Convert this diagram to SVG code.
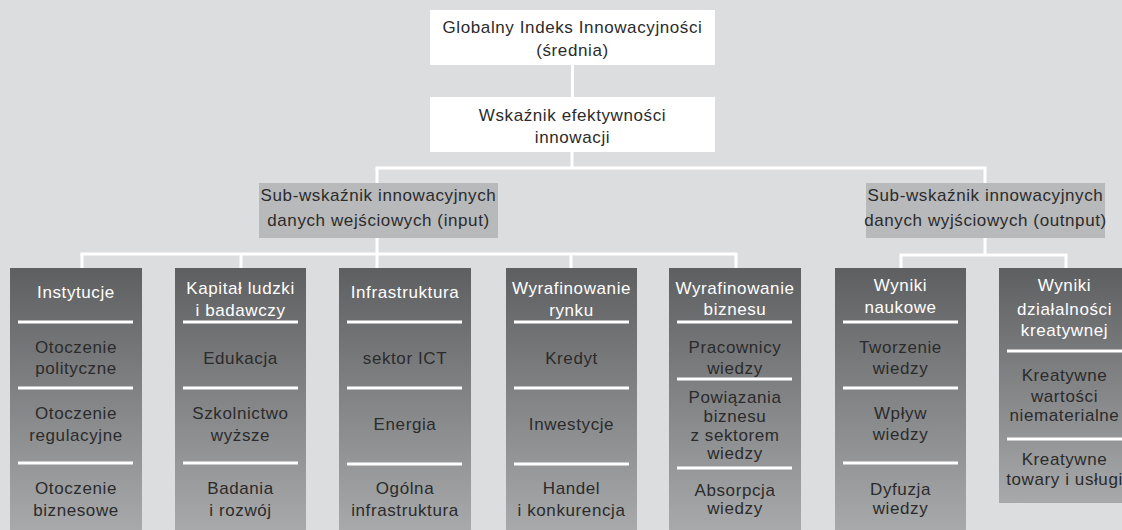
<svg xmlns="http://www.w3.org/2000/svg" width="1122" height="530" viewBox="0 0 1122 530">
<defs>
<linearGradient id="colg" x1="0" y1="0" x2="0" y2="1">
<stop offset="0" stop-color="#5e5f61"/>
<stop offset="1" stop-color="#a8a9ab"/>
</linearGradient>
<style>
text{font-family:"Liberation Sans","Open Sans",sans-serif;font-size:17px;letter-spacing:0.6px;text-anchor:middle;fill:#2b2b2b}
.hd{fill:#ffffff}
.conn line{stroke:#ffffff;stroke-width:3;fill:none}
.div{stroke:#ffffff;stroke-width:3}
.white{fill:#ffffff}
.sub{fill:#b8b9bb}
.col{fill:url(#colg)}
</style>
</defs>
<rect width="1122" height="530" fill="#dcdddf"/>

<g class="conn" id="connectors">
<line x1="572.5" y1="65" x2="572.5" y2="97"/>
<line x1="572" y1="152" x2="572" y2="168"/>
<line x1="375.5" y1="168" x2="986.5" y2="168"/>
<line x1="377" y1="168" x2="377" y2="183"/>
<line x1="985" y1="168" x2="985" y2="183"/>
<line x1="377" y1="238" x2="377" y2="254"/>
<line x1="80.5" y1="254" x2="737.5" y2="254"/>
<line x1="82" y1="254" x2="82" y2="268"/>
<line x1="241" y1="254" x2="241" y2="268"/>
<line x1="377" y1="254" x2="377" y2="268"/>
<line x1="571" y1="254" x2="571" y2="268"/>
<line x1="736" y1="254" x2="736" y2="268"/>
<line x1="985" y1="238" x2="985" y2="255"/>
<line x1="899.5" y1="255" x2="1067.5" y2="255"/>
<line x1="901" y1="255" x2="901" y2="268"/>
<line x1="1066" y1="255" x2="1066" y2="268"/>
</g>

<g id="gii">
<rect class="white" x="430" y="10" width="285" height="55"/>
<text x="572.5" y="33">Globalny Indeks Innowacyjności</text>
<text x="572.5" y="56">(średnia)</text>
</g>

<g id="efektywnosc">
<rect class="white" x="430" y="97" width="285" height="55"/>
<text x="572.5" y="121">Wskaźnik efektywności</text>
<text x="572.5" y="143">innowacji</text>
</g>

<g id="input">
<rect class="sub" x="259" y="183" width="239" height="55"/>
<text x="378.5" y="201">Sub-wskaźnik innowacyjnych</text>
<text x="378.5" y="226">danych wejściowych (input)</text>
</g>

<g id="output">
<rect class="sub" x="866" y="183" width="239" height="55"/>
<text x="985.5" y="201">Sub-wskaźnik innowacyjnych</text>
<text x="985.5" y="226">danych wyjściowych (outnput)</text>
</g>

<g id="instytucje">
<rect class="col" x="10" y="268" width="132" height="262"/>
<text class="hd" x="76" y="298">Instytucje</text>
<line class="div" x1="18" y1="322" x2="133" y2="322"/>
<text x="76" y="353">Otoczenie</text>
<text x="76" y="374">polityczne</text>
<line class="div" x1="18" y1="388" x2="133" y2="388"/>
<text x="76" y="419">Otoczenie</text>
<text x="76" y="441">regulacyjne</text>
<line class="div" x1="18" y1="463" x2="133" y2="463"/>
<text x="76" y="494">Otoczenie</text>
<text x="76" y="516">biznesowe</text>
</g>

<g id="kapital">
<rect class="col" x="175" y="268" width="131" height="262"/>
<text class="hd" x="240.5" y="294">Kapitał ludzki</text>
<text class="hd" x="240.5" y="316">i badawczy</text>
<line class="div" x1="183" y1="322" x2="298" y2="322"/>
<text x="240.5" y="364">Edukacja</text>
<line class="div" x1="183" y1="388" x2="298" y2="388"/>
<text x="240.5" y="419">Szkolnictwo</text>
<text x="240.5" y="441">wyższe</text>
<line class="div" x1="183" y1="463" x2="298" y2="463"/>
<text x="240.5" y="494">Badania</text>
<text x="240.5" y="516">i rozwój</text>
</g>

<g id="infrastruktura">
<rect class="col" x="339" y="268" width="132" height="262"/>
<text class="hd" x="405" y="298">Infrastruktura</text>
<line class="div" x1="347" y1="322" x2="462" y2="322"/>
<text x="405" y="364">sektor ICT</text>
<line class="div" x1="347" y1="388" x2="462" y2="388"/>
<text x="405" y="430">Energia</text>
<line class="div" x1="347" y1="464" x2="462" y2="464"/>
<text x="405" y="494">Ogólna</text>
<text x="405" y="516">infrastruktura</text>
</g>

<g id="rynek">
<rect class="col" x="506" y="268" width="131" height="262"/>
<text class="hd" x="571.5" y="294">Wyrafinowanie</text>
<text class="hd" x="571.5" y="316">rynku</text>
<line class="div" x1="514" y1="322" x2="629" y2="322"/>
<text x="571.5" y="364">Kredyt</text>
<line class="div" x1="514" y1="388" x2="629" y2="388"/>
<text x="571.5" y="430">Inwestycje</text>
<line class="div" x1="514" y1="464" x2="629" y2="464"/>
<text x="571.5" y="494">Handel</text>
<text x="571.5" y="516">i konkurencja</text>
</g>

<g id="biznes">
<rect class="col" x="669" y="268" width="132" height="262"/>
<text class="hd" x="735" y="294">Wyrafinowanie</text>
<text class="hd" x="735" y="315">biznesu</text>
<line class="div" x1="677" y1="322" x2="792" y2="322"/>
<text x="735" y="353">Pracownicy</text>
<text x="735" y="374">wiedzy</text>
<line class="div" x1="677" y1="379" x2="792" y2="379"/>
<text x="735" y="403">Powiązania</text>
<text x="735" y="422">biznesu</text>
<text x="735" y="441">z sektorem</text>
<text x="735" y="459">wiedzy</text>
<line class="div" x1="677" y1="468" x2="792" y2="468"/>
<text x="735" y="496">Absorpcja</text>
<text x="735" y="514">wiedzy</text>
</g>

<g id="naukowe">
<rect class="col" x="835" y="268" width="131" height="262"/>
<text class="hd" x="900.5" y="291">Wyniki</text>
<text class="hd" x="900.5" y="313">naukowe</text>
<line class="div" x1="843" y1="322" x2="958" y2="322"/>
<text x="900.5" y="353">Tworzenie</text>
<text x="900.5" y="374">wiedzy</text>
<line class="div" x1="843" y1="388" x2="958" y2="388"/>
<text x="900.5" y="419">Wpływ</text>
<text x="900.5" y="440">wiedzy</text>
<line class="div" x1="843" y1="463" x2="958" y2="463"/>
<text x="900.5" y="495">Dyfuzja</text>
<text x="900.5" y="514">wiedzy</text>
</g>

<g id="kreatywne">
<rect class="col" x="999" y="268" width="132" height="235"/>
<text class="hd" x="1064.5" y="291">Wyniki</text>
<text class="hd" x="1064.5" y="315">działalności</text>
<text class="hd" x="1064.5" y="336">kreatywnej</text>
<line class="div" x1="1007" y1="351" x2="1122" y2="351"/>
<text x="1064.5" y="381">Kreatywne</text>
<text x="1064.5" y="402">wartości</text>
<text x="1064.5" y="421">niematerialne</text>
<line class="div" x1="1007" y1="439" x2="1122" y2="439"/>
<text x="1064.5" y="465">Kreatywne</text>
<text x="1064.5" y="485">towary i usługi</text>
</g>
</svg>
